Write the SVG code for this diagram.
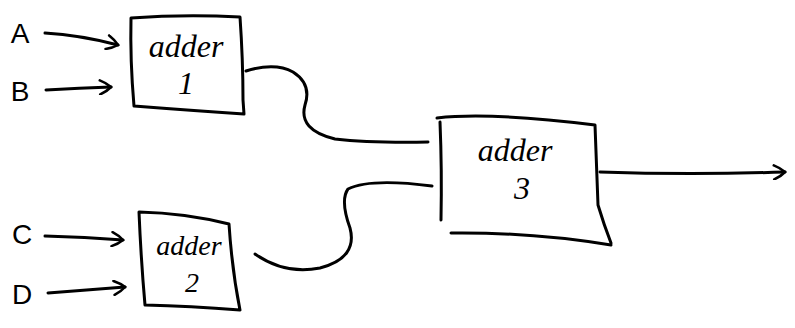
<svg xmlns="http://www.w3.org/2000/svg" width="795" height="328" viewBox="0 0 795 328">
<defs>
<style>
.s{fill:none;stroke:#000;stroke-width:3;stroke-linecap:round;stroke-linejoin:round}
.t{font-family:"Liberation Serif",serif;font-style:italic;font-size:32px;fill:#000;text-anchor:middle}
.u{font-family:"Liberation Serif",serif;font-style:italic;font-size:28px;fill:#000;text-anchor:middle}
.l{font-family:"Liberation Sans",sans-serif;font-size:28px;fill:#000;text-anchor:middle}
</style>
<marker id="ah" viewBox="0 0 16 16" refX="14" refY="8" markerWidth="16" markerHeight="16" markerUnits="userSpaceOnUse" orient="auto">
<path d="M3,1 Q10,4 14,8 Q10,12 3,15" fill="none" stroke="#000" stroke-width="2.6" stroke-linecap="round"/>
</marker>
</defs>
<rect width="795" height="328" fill="#fff"/>
<g id="inputs">
<text class="l" x="20" y="43">A</text>
<text class="l" x="20" y="101">B</text>
<text class="l" x="22" y="244">C</text>
<text class="l" x="22" y="304">D</text>
</g>
<g id="adder1">
<path class="s" d="M131,18 Q185,14 240,17 Q243,60 243,100 L244,114 Q185,110 134,106 Q130,60 131,18 Z"/>
<text class="t" x="186" y="57">adder</text>
<text class="t" x="186" y="94">1</text>
</g>
<g id="adder2">
<path class="s" d="M139,212 Q185,213 229,224 Q232,270 240,310 Q190,306 145,305 Q141,260 139,212 Z"/>
<text class="u" x="189" y="255">adder</text>
<text class="u" x="192" y="292">2</text>
</g>
<g id="adder3">
<path class="s" d="M437,118 Q490,112 595,125 L598,205 Q604,225 611,243"/>
<path class="s" d="M440,122 Q442,170 441,220"/>
<path class="s" d="M451,233 Q530,232 611,245"/>
<text class="t" x="515" y="161">adder</text>
<text class="t" x="522" y="199">3</text>
</g>
<g id="connectors">
<path class="s" marker-end="url(#ah)" d="M45,33 Q80,35 118,45"/>
<path class="s" marker-end="url(#ah)" d="M46,90 Q80,88 111,87"/>
<path class="s" marker-end="url(#ah)" d="M45,236 Q85,237 123,240"/>
<path class="s" marker-end="url(#ah)" d="M48,293 Q88,290 125,287"/>
<path class="s" d="M246,71 Q275,62 293,72 Q312,84 305,105 Q298,130 335,139 Q370,143 428,142"/>
<path class="s" d="M255,254 Q285,275 320,268 Q358,258 350,228 Q340,200 348,189 Q370,178 432,186"/>
<path class="s" marker-end="url(#ah)" d="M600,172 Q690,175 785,172"/>
</g>
</svg>
